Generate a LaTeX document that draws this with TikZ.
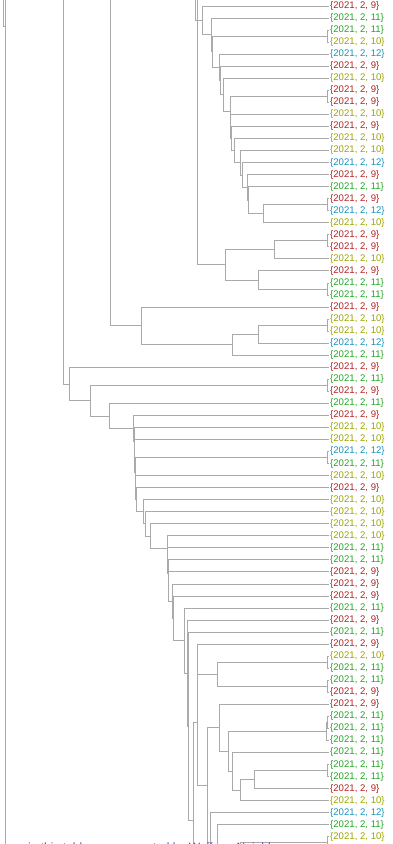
\documentclass[tikz,border=0pt]{standalone}
\usepackage{fontspec}
\setmainfont{Liberation Sans}
\usetikzlibrary{calc,positioning}
\definecolor{m9}{RGB}{178,34,34}
\definecolor{m10}{RGB}{155,165,0}
\definecolor{m11}{RGB}{34,165,34}
\definecolor{m12}{RGB}{25,145,185}
\definecolor{linkblue}{RGB}{40,90,210}
\definecolor{branchgray}{RGB}{170,170,170}
\newcommand\joinat[4]{%
  \coordinate (#1x) at (#2,0);
  \coordinate (#1m) at ($(#3)!.5!(#4)$);
  \coordinate (#1) at (#1m -| #1x);
  \draw[br] (#3) -- (#3 -| #1) -- (#4 -| #1) -- (#4);}

\begin{document}
\begin{tikzpicture}[x=1pt,y=-1pt,
    br/.style={draw=branchgray,line width=.8pt},
    leaf/.style={anchor=west,inner sep=1pt,font=\fontsize{9.6}{11}\selectfont}]
  \useasboundingbox (0,0) rectangle (392,844);
  \clip (0,0) rectangle (392,844);
  \foreach \m [count=\i from 0] in {9,11,11,10,12,9,10,9,9,10,
      9,10,10,12,9,11,9,12,10,9, 9,10,9,11,11,9,10,10,12,11,
      9,11,9,11,9,10,10,12,11,10, 9,10,10,10,10,11,11,9,9,9,
      11,9,11,9,10,11,11,9,9,11, 11,11,11,11,11,9,10,12,11,10}
    \node[leaf,text=m\m] (k\i) at (329,{6+12.04*\i}) {\{2021, 2, \m\}};
  \coordinate (k70) at (328,848.8);

  \joinat{pa}{327}{k2}{k3}
  \joinat{pb}{327}{k7}{k8}
  \joinat{pc}{327}{k16}{k17}
  \joinat{t14}{263}{pc}{k18}
  \joinat{t13}{248}{k15}{t14}
  \joinat{t12}{247}{k14}{t13}
  \joinat{t11}{242}{k13}{t12}
  \joinat{t10}{240}{k12}{t11}
  \joinat{t9}{234}{k11}{t10}
  \joinat{t8}{231}{k10}{t9}
  \joinat{t7}{230.5}{k9}{t8}
  \joinat{t6}{230}{pb}{t7}
  \joinat{t5}{223}{k6}{t6}
  \joinat{t4}{220}{k5}{t5}
  \joinat{t3}{219}{k4}{t4}
  \joinat{t2}{212}{pa}{t3}
  \joinat{t1}{211}{k1}{t2}
  \joinat{t0}{202}{k0}{t1}

  \joinat{pd}{327}{k19}{k20}
  \joinat{sa}{274}{pd}{k21}
  \joinat{pe}{327}{k23}{k24}
  \joinat{sb}{258}{k22}{pe}
  \joinat{sc}{225}{sa}{sb}

  \joinat{pf}{327}{k26}{k27}
  \joinat{ca}{258}{pf}{k28}
  \joinat{cb}{232}{ca}{k29}
  \joinat{cc}{141}{k25}{cb}

  \joinat{pg}{327}{k54}{k55}
  \joinat{ph}{327}{k56}{k57}
  \joinat{ba}{217}{pg}{ph}
  \joinat{bb}{197}{k53}{ba}
  \joinat{pi}{327}{k59}{k60}
  \joinat{pj}{326}{pi}{k61}
  \joinat{pk}{327}{k63}{k64}
  \joinat{bc}{254}{pk}{k65}
  \joinat{bd}{240}{bc}{k66}
  \joinat{be}{232}{k62}{bd}
  \joinat{bf}{228}{pj}{be}
  \joinat{bg}{219}{k58}{bf}
  \joinat{pl}{327}{k69}{k70}
  \coordinate (ua) at (300,1000);
  \joinat{bh}{240}{pl}{ua}
  \joinat{bi}{217}{k68}{bh}
  \joinat{bj}{210}{k67}{bi}
  \joinat{bk}{207}{bg}{bj}
  \joinat{bl}{197}{bb}{bk}
  \coordinate (ub) at (260,918);
  \joinat{bm}{193}{bl}{ub}
  \joinat{bn}{188}{k52}{bm}
  \joinat{bo}{187}{k51}{bn}
  \joinat{bp}{184}{k50}{bo}
  \joinat{bq}{173}{k49}{bp}

  \joinat{c17}{172}{k48}{bq}
  \joinat{c16}{168.5}{k47}{c17}
  \joinat{c15}{168}{k46}{c16}
  \joinat{c14}{167.5}{k45}{c15}
  \joinat{c13}{167}{k44}{c14}
  \joinat{c12}{150}{k43}{c13}
  \joinat{c11}{145}{k42}{c12}
  \joinat{c10}{143}{k41}{c11}
  \joinat{c9}{136}{k40}{c10}
  \joinat{c8}{135.5}{k39}{c9}
  \joinat{pm}{327}{k37}{k38}
  \joinat{c7}{135}{pm}{c8}
  \joinat{c6}{134.5}{k36}{c7}
  \joinat{c5}{134}{k35}{c6}
  \joinat{c4}{133}{k34}{c5}
  \joinat{c3}{109}{k33}{c4}
  \joinat{pn}{327}{k31}{k32}
  \joinat{c2}{90}{pn}{c3}
  \joinat{c1}{69}{k30}{c2}

  \coordinate (ra) at (5,-10);
  \coordinate (rb) at (5,860);
  \coordinate (rc) at (3.3,-10);
  \coordinate (rd) at (5,26);
  \coordinate (ga) at (63,-10);
  \coordinate (gb) at (110,-10);
  \coordinate (gc) at (197,-10);
  \coordinate (gd) at (195,-10);
  \draw[br] (ra) -- (rb);
  \draw[br] (rc) |- (rd);
  \draw[br] (ga) |- (c1);
  \draw[br] (gb) |- (cc);
  \draw[br] (gc) |- (sc);
  \draw[br] (gd) |- (t0);

  \node[anchor=base west,inner sep=0,text=linkblue,font=\fontsize{12}{14}\selectfont]
    (note) at (28,851) {in this table was computed by Wolfram Neighbors};
\end{tikzpicture}
\end{document}
